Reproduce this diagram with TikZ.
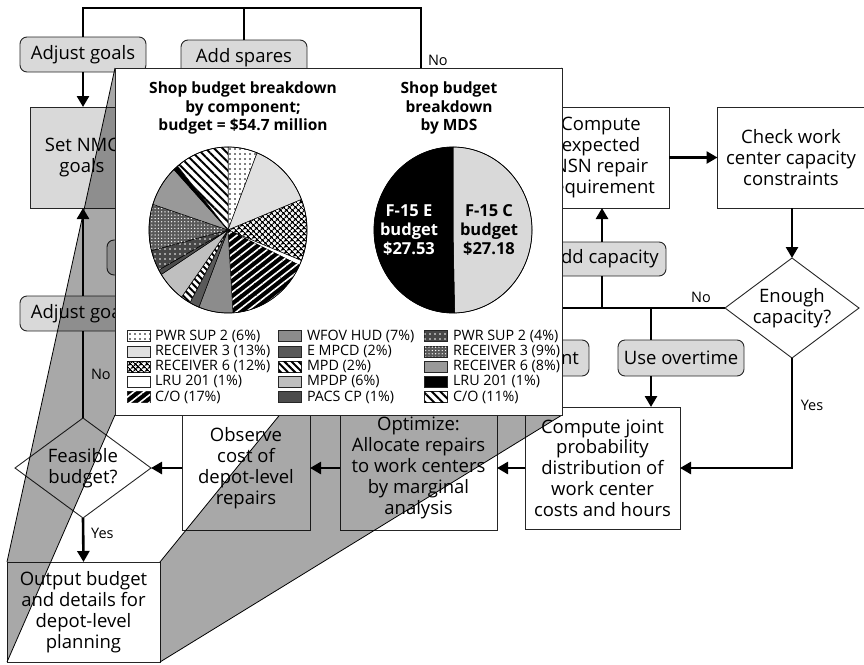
\documentclass[tikz,border=0pt]{standalone}
\usepackage{fontspec}
\setmainfont{Open Sans}
\usetikzlibrary{arrows.meta,shapes.geometric,patterns.meta}
\newcommand{\pslice}[4]{%
  \path[draw=black,line width=0.5pt,#4] (#1) -- ++({-90+3.6*#2}:79 and 83)
    arc[start angle={-90+3.6*#2}, end angle={-90+3.6*#3}, x radius=79, y radius=83] -- cycle;}
\begin{document}
\begin{tikzpicture}[x=1pt,y=-1pt,
  every node/.style={font=\fontsize{18.5}{20.8}\selectfont, align=center, inner sep=0pt, outer sep=0pt},
  box/.style={draw=black!85, line width=0.9pt, fill=white},
  gbox/.style={draw=black!85, line width=0.9pt, fill=black!15},
  rbox/.style={draw=black!85, line width=0.9pt, fill=black!15, rounded corners=7pt},
  dia/.style={diamond, aspect=1.4, draw=black!85, line width=0.9pt, fill=white},
  conn/.style={line width=2.6pt},
  arr/.style={conn, -{Triangle[length=11pt,width=12pt]}},
  lbl/.style={font=\fontsize{14.5}{16}\selectfont},
  ttl/.style={font=\fontsize{15.5}{18.6}\bfseries\selectfont},
  pl/.style={font=\fontsize{16.5}{19}\bfseries\selectfont},
  lg/.style={font=\fontsize{14.3}{15}\selectfont, anchor=west},
  sw/.style={draw=black!85, line width=0.5pt, minimum width=23pt, minimum height=11pt},
  face/.style={fill=black, fill opacity=0.34},
  s1/.style={fill=white, postaction={pattern={Dots[distance=5pt,radius=0.8pt]}, pattern color=black}},
  s2/.style={fill=black!12},
  s3/.style={fill=white, postaction={pattern={Hatch[angle=45,distance=4pt,line width=1.3pt]}, pattern color=black}},
  s4/.style={fill=white},
  s5/.style={fill=black, postaction={pattern={Lines[angle=38,distance=6pt,line width=1.6pt]}, pattern color=white}},
  s6/.style={fill=black!45},
  s7/.style={fill=black!65},
  s8/.style={fill=white, postaction={pattern={Lines[angle=-45,distance=5pt,line width=2pt]}, pattern color=black}},
  s9/.style={fill=black!25},
  s10/.style={fill=black!70},
  s11/.style={fill=black!72, postaction={pattern={Dots[distance=5pt,radius=0.9pt]}, pattern color=white}},
  s12/.style={fill=black!65, postaction={pattern={Dots[distance=3.3pt,radius=0.7pt]}, pattern color=white}},
  s13/.style={fill=black!40},
  s14/.style={fill=black},
  s15/.style={fill=white, postaction={pattern={Lines[angle=-45,distance=6pt,line width=2pt]}, pattern color=black}},
]
\useasboundingbox (0,0) rectangle (864,664);

% ---------------- flowchart ----------------
\node[rbox, minimum width=126pt, minimum height=35pt] (adjg1) at (83,54.5) {Adjust goals};
\node[rbox, minimum width=126pt, minimum height=35pt] (adds) at (244,57.5) {Add spares};
\node[gbox, minimum width=104pt, minimum height=101pt] (setnmc) at (82,157.5) {Set NMC\\goals};
\node[rbox, minimum width=103pt, minimum height=35pt] (hidb) at (158.5,257.5) {};
\node[rbox, minimum width=126pt, minimum height=35pt] (adjg2) at (83,313.5) {Adjust goals};
\node[dia, minimum width=136pt, minimum height=100pt] (feas) at (83,468) {Feasible\\budget?};
\node[box, minimum width=153pt, minimum height=100pt] (outb) at (83.5,612) {Output budget\\and details for\\depot-level\\planning};
\node[box, minimum width=128pt, minimum height=124pt] (obs) at (246,468) {Observe\\cost of\\depot-level\\repairs};
\node[box, minimum width=157pt, minimum height=124pt] (opt) at (418.5,468) {Optimize:\\Allocate repairs\\to work centers\\by marginal\\analysis};
\node[box, minimum width=155pt, minimum height=122pt] (cjoint) at (602.5,468) {Compute joint\\probability\\distribution of\\work center\\costs and hours};
\node[dia, minimum width=134pt, minimum height=100pt] (enough) at (792,308) {Enough\\capacity?};
\node[box, minimum width=147pt, minimum height=101pt] (check) at (791,157.5) {Check work\\center capacity\\constraints};
\node[box, minimum width=136pt, minimum height=101pt] (nsn) at (601,157.5) {Compute\\expected\\NSN repair\\requirement};
\node[rbox, minimum width=124pt, minimum height=34pt] (addcap) at (604,259) {Add capacity};
\node[rbox, minimum width=126pt, minimum height=36pt] (usever) at (681,358) {Use overtime};
\node[rbox, minimum width=110pt, minimum height=36pt, anchor=east] (ntb) at (589,358) {};
\node[anchor=east] (ntt) at ([xshift=-10pt]ntb.east) {nt};

\coordinate (topl) at (83,8);
\coordinate (topr) at (421,8);
\coordinate (hidn) at (421,110);
\coordinate (hidw) at (500,308);
\coordinate (uo) at (651,308);

\draw[conn, line join=miter] (adjg1.north) -- (topl) -- (topr) -- (hidn);
\draw[conn] (adds.north) -- (adds.north |- topl);
\node[lbl, anchor=west] (no1) at (428,60) {No};
\draw[arr] (adjg1.south) -- (adjg1.south |- setnmc.north);
\draw[arr] (adjg2.north) -- (adjg2.north |- setnmc.south);
\draw[conn] (feas.north) -- (adjg2.south) node[lbl, midway, right=8pt] {No};
\draw[arr] (feas.south) -- (outb.north) node[lbl, pos=0.35, right=8pt] {Yes};
\draw[arr] (obs.west) -- (feas.east);
\draw[arr] (opt.west) -- (obs.east);
\draw[arr] (cjoint.west) -- (opt.east);
\draw[arr, line join=miter] (enough.south) |- (cjoint.east);
\node[lbl] (yes2) at (812,405) {Yes};
\draw[arr] (nsn.east) -- (check.west);
\draw[arr] (check.south -| enough.north) -- (enough.north);
\draw[conn] (enough.west) -- (hidw);
\node[lbl] (no2) at (701,297) {No};
\draw[conn] (addcap.south -| 602,0) -- (602,308);
\draw[arr] (addcap.north -| 602,0) -- (nsn.south -| 602,0);
\draw[conn] (uo) -- (uo |- usever.north);
\draw[arr] (uo |- usever.south) -- (uo |- cjoint.north);

% ---------------- projection faces ----------------
\fill[face] (115,68) -- (115,415) -- (7,662) -- (7,562) -- cycle;
\fill[face] (160,562) -- (562,68) -- (562,415) -- (160,662) -- cycle;
\draw[line width=0.8pt] (7,562) -- (115,68);
\draw[line width=0.8pt] (7,662) -- (115,415);
\draw[line width=0.8pt] (160,562) -- (562,68);
\draw[line width=0.8pt] (160,662) -- (562,415);

% ---------------- popup ----------------
\node[draw=black!85, fill=white, line width=0.8pt, minimum width=447pt, minimum height=347pt] (pop) at (338.5,241.5) {};
\node[ttl] (t1) at (243,108) {Shop budget breakdown\\by component;\\budget = \$54.7 million};
\node[ttl] (t2) at (449,108) {Shop budget\\breakdown\\by MDS};

\coordinate (pc1) at (228,230);
\pslice{pc1}{0}{6}{s1}
\pslice{pc1}{6}{19}{s2}
\pslice{pc1}{19}{31}{s3}
\pslice{pc1}{31}{32}{s4}
\pslice{pc1}{32}{49}{s5}
\pslice{pc1}{49}{56}{s6}
\pslice{pc1}{56}{58}{s7}
\pslice{pc1}{58}{60}{s8}
\pslice{pc1}{60}{66}{s9}
\pslice{pc1}{66}{67}{s10}
\pslice{pc1}{67}{71}{s11}
\pslice{pc1}{71}{80}{s12}
\pslice{pc1}{80}{88}{s13}
\pslice{pc1}{88}{89}{s14}
\pslice{pc1}{89}{100}{s15}
\draw[line width=0.7pt] (pc1) ellipse [x radius=79, y radius=83];

\coordinate (pc2) at (453,230);
\pslice{pc2}{0}{49.68}{fill=black!15}
\pslice{pc2}{49.68}{100}{fill=black}
\draw[line width=0.7pt] (pc2) ellipse [x radius=79, y radius=83];
\node[pl, text=white] (fe) at (409,230) {F-15 E\\budget\\\$27.53};
\node[pl] (fc) at (489,230) {F-15 C\\budget\\\$27.18};

% legend
\foreach \st/\txt [count=\i] in {s1/{PWR SUP 2 (6\%)}, s2/{RECEIVER 3 (13\%)}, s3/{RECEIVER 6 (12\%)}, s4/{LRU 201 (1\%)}, s5/{C/O (17\%)}} {
  \node[sw, \st] (a\i) at (138.5, 321+15.2*\i) {};
  \node[lg] (la\i) at (155, 321+15.2*\i) {\txt};
}
\foreach \st/\txt [count=\i] in {s6/{WFOV HUD (7\%)}, s7/{E MPCD (2\%)}, s8/{MPD (2\%)}, s9/{MPDP (6\%)}, s10/{PACS CP (1\%)}} {
  \node[sw, \st] (b\i) at (290, 321+15.2*\i) {};
  \node[lg] (lb\i) at (307, 321+15.2*\i) {\txt};
}
\foreach \st/\txt [count=\i] in {s11/{PWR SUP 2 (4\%)}, s12/{RECEIVER 3 (9\%)}, s13/{RECEIVER 6 (8\%)}, s14/{LRU 201 (1\%)}, s15/{C/O (11\%)}} {
  \node[sw, \st] (c\i) at (436, 321+15.2*\i) {};
  \node[lg] (lc\i) at (453, 321+15.2*\i) {\txt};
}
\end{tikzpicture}
\end{document}
